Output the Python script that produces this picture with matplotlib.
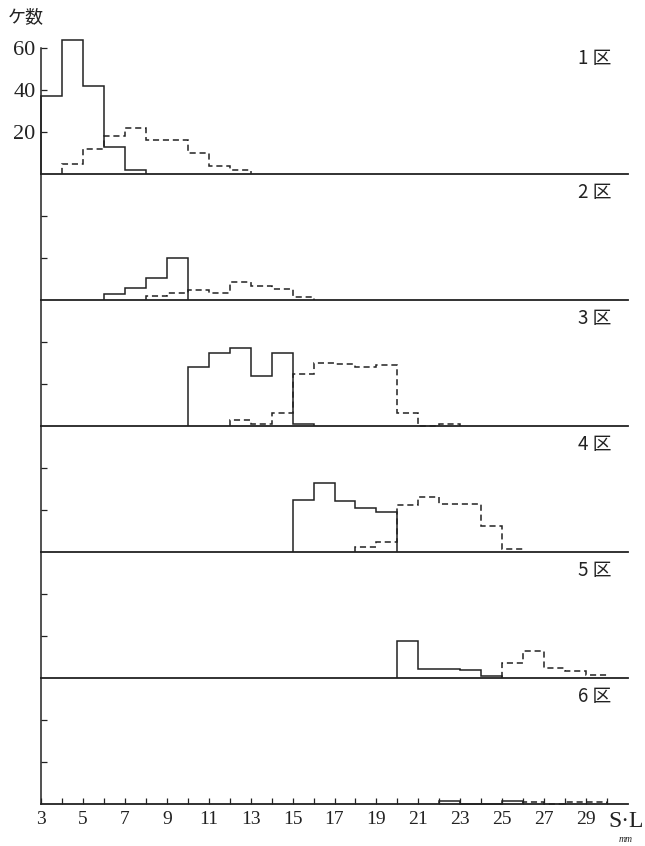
import matplotlib.pyplot as plt
import numpy as np

plt.rcParams['font.family'] = ['Liberation Serif', 'Noto Sans CJK JP']

# counts per 1 mm size class, by area; solid / dashed series
solid_start = [3, 6, 10, 15, 20, 22]
solid_counts = [
    [37, 64, 42, 13, 2],
    [3, 5.5, 10.5, 20],
    [28, 35, 37, 24, 35, 1],
    [25, 33, 24.5, 21, 19],
    [17.5, 4.4, 4.4, 3.6, 1],
    [1.5, 0, 0, 1.5],
]
dashed_start = [4, 8, 12, 18, 25, 26]
dashed_counts = [
    [5, 12, 18, 22, 16, 16, 10, 4, 2],
    [2, 3.5, 5, 3.5, 8.5, 6.7, 5.2, 1.2],
    [3, 1, 6, 25, 30, 29.5, 28, 29, 6, 0, 1],
    [2.5, 5, 22.5, 26, 23, 23, 12.5, 1.5],
    [7, 13, 5, 3.5, 1.5],
    [1, 0, 1, 1],
]
area_labels = ['1 区', '2 区', '3 区', '4 区', '5 区', '6 区']
ytick_vals = [20, 40, 60]
xtick_major = list(range(3, 30, 2))

fig = plt.figure(figsize=(6.45, 8.46), dpi=100)
left, right = 41 / 645, 628 / 645
panel_h = 126 / 846
bottom0 = 1 - 804 / 846

axes = []
for i in range(6):
    b = bottom0 + (5 - i) * panel_h
    ax = fig.add_axes([left, b, right - left, panel_h])
    axes.append(ax)

    s = solid_counts[i]
    e = np.arange(solid_start[i], solid_start[i] + len(s) + 1)
    ax.stairs(s, e, color='#222222', lw=1.1, clip_on=False)
    d = dashed_counts[i]
    e = np.arange(dashed_start[i], dashed_start[i] + len(d) + 1)
    ax.stairs(d, e, color='#222222', lw=1.1, linestyle=(0, (4, 2.5)), clip_on=False)

    ax.set_xlim(3, 31)
    ax.set_ylim(0, 60)
    for sp in ['top', 'right']:
        ax.spines[sp].set_visible(False)
    ax.spines['left'].set_color('#222222')
    ax.spines['bottom'].set_color('#222222')
    ax.spines['left'].set_linewidth(1.1)
    ax.spines['bottom'].set_linewidth(1.3)
    ax.patch.set_alpha(0)

    ax.tick_params(axis='y', direction='in', length=4, width=0.9, colors='#222222',
                   labelsize=16, pad=4)
    if i == 0:
        ax.set_yticks(ytick_vals)
        ax.set_yticklabels([str(v) for v in ytick_vals])
    else:
        ax.set_yticks(ytick_vals[:2])
        ax.set_yticklabels([])

    if i == 5:
        ax.set_xticks(np.arange(3, 31))
        ax.set_xticklabels([str(v) if v in xtick_major else '' for v in range(3, 31)])
        ax.tick_params(axis='x', direction='in', length=4, width=0.9, colors='#222222',
                       labelsize=14, pad=5)
    else:
        ax.set_xticks([])

    ax.text(29.4, 55 if i == 0 else 51, area_labels[i], ha='center', va='center',
            fontsize=13.5, family=['Noto Sans CJK JP'], color='#222222')

fig.text(8 / 645, 1 - 17 / 846, 'ケ数', fontsize=13, family=['Noto Sans CJK JP'],
         ha='left', va='center', color='#222222')
fig.text(626 / 645, 1 - 821 / 846, 'S·L', fontsize=17, ha='center', va='center', color='#222222')
fig.text(626 / 645, 1 - 839 / 846, 'mm', fontsize=7, style='italic', ha='center', va='center',
         color='#222222')

fig.savefig('out.png', dpi=100)
